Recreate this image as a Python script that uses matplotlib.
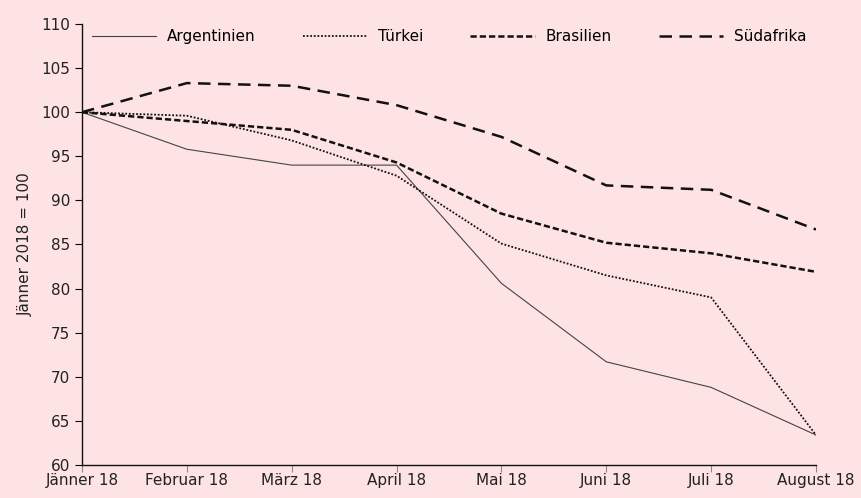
import numpy as np
import matplotlib.pyplot as plt

# data (Jänner 2018 = 100)
months = ["Jänner 18", "Februar 18", "März 18", "April 18",
          "Mai 18", "Juni 18", "Juli 18", "August 18"]
argentinien = [100, 95.8, 94.0, 94.0, 80.6, 71.7, 68.8, 63.4]
tuerkei = [100, 99.6, 96.8, 92.8, 85.1, 81.5, 79.0, 63.4]
brasilien = [100, 99.0, 98.0, 94.3, 88.5, 85.2, 84.0, 81.9]
suedafrika = [100, 103.3, 103.0, 100.8, 97.2, 91.7, 91.2, 86.7]

bg = "#fee3e5"
plt.rcParams['font.family'] = ['DejaVu Sans']

fig = plt.figure(figsize=(8.62, 4.98), dpi=100, facecolor=bg)
ax = fig.add_axes([0.0951, 0.0663, 0.8515, 0.8855], facecolor=bg)

x = np.arange(len(months))
ax.plot(x, argentinien, color="#444444", lw=0.8, ls="-", label="Argentinien")
ax.plot(x, tuerkei, color="#111111", lw=1.3, ls=(0, (1, 1)), label="Türkei")
ax.plot(x, brasilien, color="#111111", lw=1.8, ls=(0, (2.5, 1.2)), label="Brasilien")
ax.plot(x, suedafrika, color="#111111", lw=1.8, ls=(0, (5, 3)), label="Südafrika")

ax.set_xlim(0, len(months) - 1)
ax.set_ylim(60, 110)
ax.set_xticks(x)
ax.set_xticklabels(months, fontsize=11, color="#222222")
ax.set_yticks(np.arange(60, 111, 5))
ax.tick_params(axis="y", labelsize=11, labelcolor="#222222", length=5, width=0.8)
ax.tick_params(axis="x", length=5, width=0.8, pad=1, color="#888888")
for s in ["top", "right"]:
    ax.spines[s].set_visible(False)
for s in ["left", "bottom"]:
    ax.spines[s].set_linewidth(1.0)
    ax.spines[s].set_color("#111111")

ax.set_ylabel("Jänner 2018 = 100", fontsize=11, color="#222222", labelpad=6)

ax.legend(loc="upper center", ncol=4, frameon=False, fontsize=11,
          handlelength=4.2, columnspacing=3.1, handletextpad=0.7,
          bbox_to_anchor=(0.5, 1.02))

fig.savefig("out.png", dpi=100, facecolor=bg)
